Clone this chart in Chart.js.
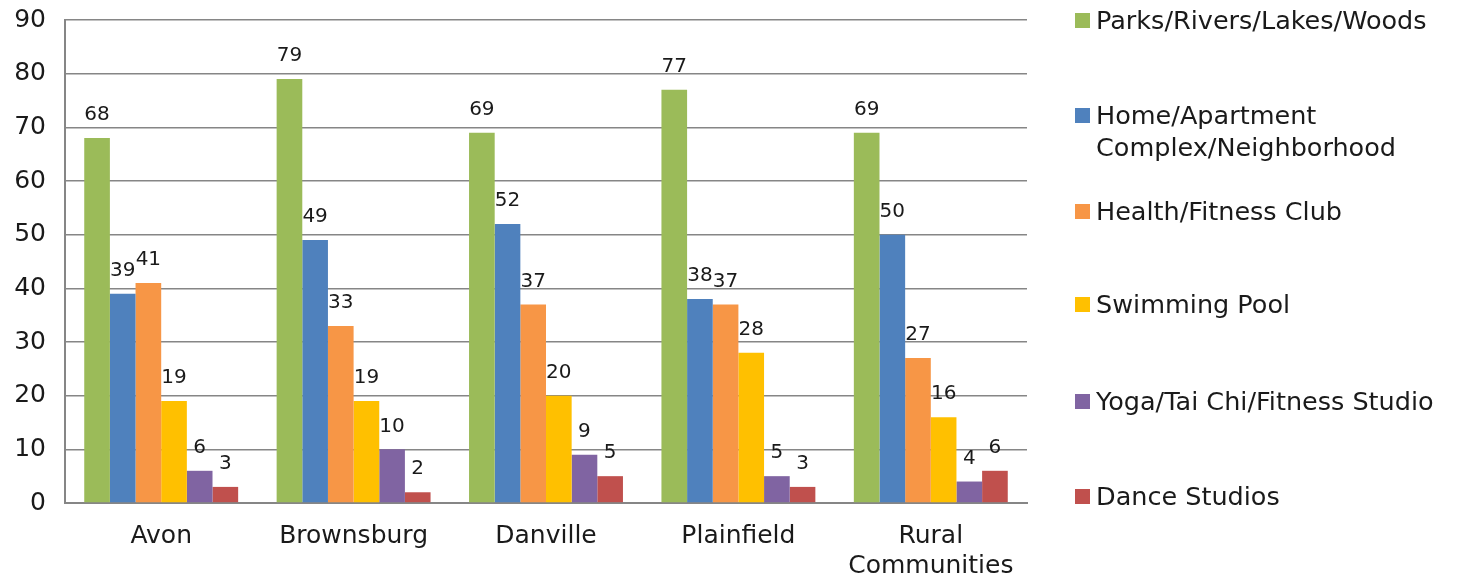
<!DOCTYPE html>
<html>
<head>
<meta charset="utf-8">
<script src="https://cdn.jsdelivr.net/npm/chart.js@4.4.0/dist/chart.umd.min.js"></script>
<style>
  html, body { margin: 0; padding: 0; background: #fff; }
  #wrap { position: relative; width: 1458px; height: 584px; }
  #legend { position: absolute; left: 0; top: 0; font-family: "DejaVu Sans", sans-serif; font-size: 25.5px; color: #1a1a1a; }
  .item { position: absolute; left: 1075px; width: 383px; line-height: 32px; }
  .box { position: absolute; left: 0; top: 9px; width: 15px; height: 15px; }
  .txt { position: absolute; left: 21px; top: 0; white-space: nowrap; }
</style>
</head>
<body>
<div id="wrap">
  <canvas id="placesChart" width="1458" height="584"></canvas>
  <div id="legend"></div>
</div>
<script>
const towns = ["Avon", "Brownsburg", "Danville", "Plainfield", ["Rural", "Communities"]];

const seriesNames = [
  "Parks/Rivers/Lakes/Woods",
  ["Home/Apartment", "Complex/Neighborhood"],
  "Health/Fitness Club",
  "Swimming Pool",
  "Yoga/Tai Chi/Fitness Studio",
  "Dance Studios"
];

const parks    = [68, 79, 69, 77, 69];
const home     = [39, 49, 52, 38, 50];
const health   = [41, 33, 37, 37, 27];
const swimming = [19, 19, 20, 28, 16];
const yoga     = [6, 10, 9, 5, 4];
const dance    = [3, 2, 5, 3, 6];

const yTicks = [0, 10, 20, 30, 40, 50, 60, 70, 80, 90];

const colors = ["#9BBB59", "#4F81BD", "#F79646", "#FFC000", "#8064A2", "#C0504D"];
const allSeries = [parks, home, health, swimming, yoga, dance];

// legend row tops, right of the plot
const legendTops = [4, 99, 195, 288, 385, 480];

const gridGray = "#868686";
const textColor = "#1a1a1a";
const fontFamily = "'DejaVu Sans', sans-serif";

// numbers above every bar
const valueLabels = {
  id: "valueLabels",
  afterDatasetsDraw(chart) {
    const ctx = chart.ctx;
    ctx.save();
    ctx.font = "20px " + fontFamily;
    ctx.fillStyle = textColor;
    ctx.textAlign = "center";
    ctx.textBaseline = "middle";
    chart.data.datasets.forEach((ds, i) => {
      chart.getDatasetMeta(i).data.forEach((bar, j) => {
        ctx.fillText(String(ds.data[j]), bar.x, bar.y - 23);
      });
    });
    ctx.restore();
  }
};

const ctx = document.getElementById("placesChart").getContext("2d");

new Chart(ctx, {
  type: "bar",
  data: {
    labels: towns,
    datasets: allSeries.map((values, i) => ({
      label: Array.isArray(seriesNames[i]) ? seriesNames[i].join(" ") : seriesNames[i],
      data: values,
      backgroundColor: colors[i],
      borderWidth: 0,
      categoryPercentage: 0.8,
      barPercentage: 1.0
    }))
  },
  options: {
    responsive: false,
    animation: false,
    layout: { padding: { left: 0, right: 431, top: 20, bottom: 0 } },
    plugins: {
      legend: { display: false },
      tooltip: { enabled: false }
    },
    scales: {
      x: {
        grid: { display: false, drawTicks: false },
        border: { display: true, color: gridGray, width: 2 },
        ticks: {
          color: textColor,
          font: { family: fontFamily, size: 25 },
          padding: 18,
          maxRotation: 0,
          autoSkip: false
        },
        afterFit(scale) { scale.height = 81; }
      },
      y: {
        min: 0,
        max: 90,
        afterBuildTicks(scale) { scale.ticks = yTicks.map(v => ({ value: v })); },
        grid: { color: gridGray, lineWidth: 1.6, drawTicks: false },
        border: { display: true, color: gridGray, width: 2 },
        ticks: {
          color: textColor,
          font: { family: fontFamily, size: 25 },
          padding: 19
        },
        afterFit(scale) {
          scale.width = 65;
          scale.paddingTop = 0;
          scale.paddingBottom = 0;
        }
      }
    }
  },
  plugins: [valueLabels]
});

// legend built from the same series names and colours
const legendEl = document.getElementById("legend");
seriesNames.forEach((name, i) => {
  const item = document.createElement("div");
  item.className = "item";
  item.style.top = legendTops[i] + "px";
  const box = document.createElement("div");
  box.className = "box";
  box.style.background = colors[i];
  const txt = document.createElement("div");
  txt.className = "txt";
  txt.innerHTML = (Array.isArray(name) ? name : [name]).join("<br>");
  item.appendChild(box);
  item.appendChild(txt);
  legendEl.appendChild(item);
});
</script>
</body>
</html>
